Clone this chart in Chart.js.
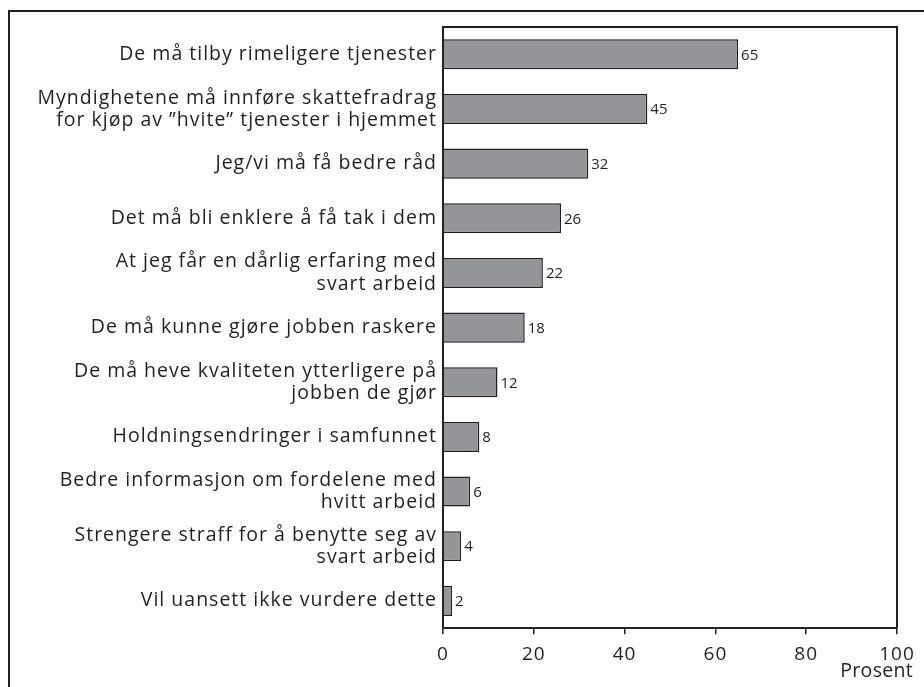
<!DOCTYPE html>
<html><head><meta charset="utf-8">
<script src="https://cdn.jsdelivr.net/npm/chart.js@4/dist/chart.umd.min.js"></script>
<style>html,body{margin:0;padding:0;background:#fff}#wrap{width:924px;height:687px;position:relative}</style>
</head><body><div id="wrap"><canvas id="c" width="924" height="687"></canvas></div>
<script>
const categories = [
  ["De må tilby rimeligere tjenester"],
  ["Myndighetene må innføre skattefradrag", "for kjøp av ”hvite” tjenester i hjemmet"],
  ["Jeg/vi må få bedre råd"],
  ["Det må bli enklere å få tak i dem"],
  ["At jeg får en dårlig erfaring med", "svart arbeid"],
  ["De må kunne gjøre jobben raskere"],
  ["De må heve kvaliteten ytterligere på", "jobben de gjør"],
  ["Holdningsendringer i samfunnet"],
  ["Bedre informasjon om fordelene med", "hvitt arbeid"],
  ["Strengere straff for å benytte seg av", "svart arbeid"],
  ["Vil uansett ikke vurdere dette"]
];
const values = [65, 45, 32, 26, 22, 18, 12, 8, 6, 4, 2];
const xTicks = [0, 20, 40, 60, 80, 100];
const axisTitle = "Prosent";

const FONT = "'Open Sans', 'Noto Sans', sans-serif";
const INK = '#231f20';

const framePlugin = {
  id: 'frame',
  beforeDraw(chart) {
    chart.ctx.letterSpacing = '1px';
  },
  beforeDatasetsDraw(chart) {
    chart.ctx.letterSpacing = '0px';
  },
  afterDraw(chart) {
    const ctx = chart.ctx, a = chart.chartArea;
    ctx.save();
    ctx.letterSpacing = '0px';
    ctx.strokeStyle = INK;
    ctx.lineWidth = 2;
    ctx.beginPath();
    ctx.moveTo(9, 700); ctx.lineTo(9, 11); ctx.lineTo(930, 11);
    ctx.stroke();
    ctx.beginPath();
    ctx.moveTo(a.left, a.top); ctx.lineTo(a.right, a.top); ctx.lineTo(a.right, a.bottom);
    ctx.stroke();
    const meta = chart.getDatasetMeta(0);
    ctx.fillStyle = INK;
    ctx.font = "15px " + FONT;
    ctx.textAlign = 'left';
    ctx.textBaseline = 'middle';
    meta.data.forEach((bar, i) => {
      ctx.fillText(String(values[i]), bar.x + 3, bar.y + 1);
    });
    ctx.font = "19.5px " + FONT;
    ctx.letterSpacing = '0.3px';
    ctx.textAlign = 'right';
    ctx.fillText(axisTitle, 913, 671);
    ctx.restore();
  }
};

new Chart(document.getElementById('c'), {
  type: 'bar',
  data: {
    labels: categories,
    datasets: [{
      data: values,
      backgroundColor: '#939598',
      borderColor: INK,
      borderWidth: 1.5,
      borderSkipped: 'left',
      barPercentage: 0.55,
      categoryPercentage: 1.0
    }]
  },
  options: {
    indexAxis: 'y',
    responsive: false,
    animation: false,
    layout: { padding: { top: 27, right: 27, bottom: 12, left: 0 } },
    plugins: { legend: { display: false }, tooltip: { enabled: false } },
    scales: {
      x: {
        min: 0, max: 100,
        afterBuildTicks(scale) { scale.ticks = xTicks.map(v => ({ value: v })); },
        grid: { drawOnChartArea: false, drawTicks: true, tickLength: 6, color: INK, lineWidth: 1.5 },
        border: { display: true, color: INK, width: 2 },
        ticks: { color: INK, font: { family: FONT, size: 19 }, padding: 9, maxRotation: 0 }
      },
      y: {
        afterFit(scale) { scale.width = 443; },
        grid: { display: false, drawTicks: false },
        border: { display: true, color: INK, width: 2 },
        ticks: { color: INK, font: { family: FONT, size: 19.5, lineHeight: 1.13 }, padding: 6 }
      }
    }
  },
  plugins: [framePlugin]
});
</script></body></html>
